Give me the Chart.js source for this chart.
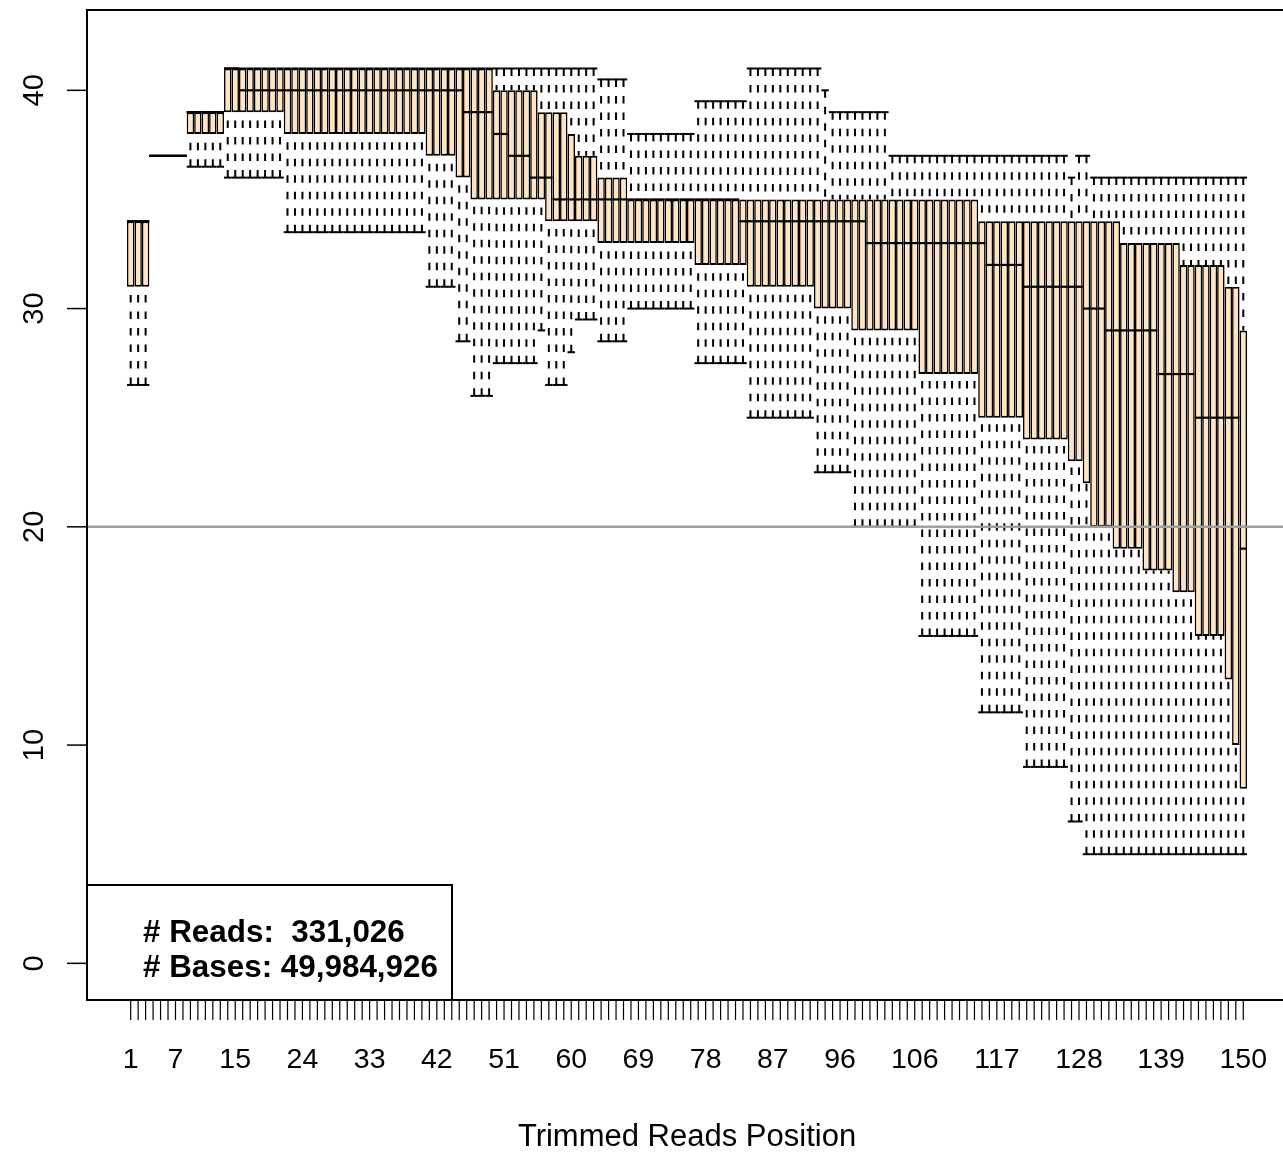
<!DOCTYPE html>
<html>
<head>
<meta charset="utf-8">
<title>Trimmed Reads Position quality</title>
<script src="https://cdn.jsdelivr.net/npm/chart.js@4.4.1/dist/chart.umd.min.js"></script>
<style>
  html, body { margin: 0; padding: 0; background: #ffffff; overflow: hidden; }
  canvas { display: block; }
</style>
</head>
<body>
<canvas id="chart" width="1283" height="1153"></canvas>
<script>
// Read positions along the trimmed reads (one box per position)
const positions = Array.from({ length: 150 }, (_, i) => i + 1);

// Lower whisker end for each position
const lowWhisker = [
  26.5, 26.5, 26.5, 37, 37, 37, 37, 37, 36.5, 36.5,
  36.5, 36.5, 36.5, 36, 36, 36, 36, 36, 36, 36,
  36, 33.5, 33.5, 33.5, 33.5, 33.5, 33.5, 33.5, 33.5, 33.5,
  33.5, 33.5, 33.5, 33.5, 33.5, 33.5, 33.5, 33.5, 33.5, 33.5,
  31, 31, 31, 31, 28.5, 28.5, 26, 26, 26, 27.5,
  27.5, 27.5, 27.5, 27.5, 27.5, 29, 26.5, 26.5, 26.5, 28,
  29.5, 29.5, 29.5, 28.5, 28.5, 28.5, 28.5, 30, 30, 30,
  30, 30, 30, 30, 30, 30, 27.5, 27.5, 27.5, 27.5,
  27.5, 27.5, 27.5, 25, 25, 25, 25, 25, 25, 25,
  25, 25, 22.5, 22.5, 22.5, 22.5, 22.5, 20, 20, 20,
  20, 20, 20, 20, 20, 20, 15, 15, 15, 15,
  15, 15, 15, 15, 11.5, 11.5, 11.5, 11.5, 11.5, 11.5,
  9, 9, 9, 9, 9, 9, 6.5, 6.5, 5, 5,
  5, 5, 5, 5, 5, 5, 5, 5, 5, 5,
  5, 5, 5, 5, 5, 5, 5, 5, 5, 5
];

// First quartile
const lowerQuartile = [
  31, 31, 31, 37, 37, 37, 37, 37, 38, 38,
  38, 38, 38, 39, 39, 39, 39, 39, 39, 39,
  39, 38, 38, 38, 38, 38, 38, 38, 38, 38,
  38, 38, 38, 38, 38, 38, 38, 38, 38, 38,
  37, 37, 37, 37, 36, 36, 35, 35, 35, 35,
  35, 35, 35, 35, 35, 35, 34, 34, 34, 34,
  34, 34, 34, 33, 33, 33, 33, 33, 33, 33,
  33, 33, 33, 33, 33, 33, 32, 32, 32, 32,
  32, 32, 32, 31, 31, 31, 31, 31, 31, 31,
  31, 31, 30, 30, 30, 30, 30, 29, 29, 29,
  29, 29, 29, 29, 29, 29, 27, 27, 27, 27,
  27, 27, 27, 27, 25, 25, 25, 25, 25, 25,
  24, 24, 24, 24, 24, 24, 23, 23, 22, 20,
  20, 20, 19, 19, 19, 19, 18, 18, 18, 18,
  17, 17, 17, 15, 15, 15, 15, 13, 10, 8
];

// Median
const medians = [
  34, 34, 34, 37, 37, 37, 37, 37, 39, 39,
  39, 39, 39, 41, 41, 40, 40, 40, 40, 40,
  40, 40, 40, 40, 40, 40, 40, 40, 40, 40,
  40, 40, 40, 40, 40, 40, 40, 40, 40, 40,
  40, 40, 40, 40, 40, 39, 39, 39, 39, 38,
  38, 37, 37, 37, 36, 36, 36, 35, 35, 35,
  35, 35, 35, 35, 35, 35, 35, 35, 35, 35,
  35, 35, 35, 35, 35, 35, 35, 35, 35, 35,
  35, 35, 34, 34, 34, 34, 34, 34, 34, 34,
  34, 34, 34, 34, 34, 34, 34, 34, 34, 33,
  33, 33, 33, 33, 33, 33, 33, 33, 33, 33,
  33, 33, 33, 33, 33, 32, 32, 32, 32, 32,
  31, 31, 31, 31, 31, 31, 31, 31, 30, 30,
  30, 29, 29, 29, 29, 29, 29, 29, 27, 27,
  27, 27, 27, 25, 25, 25, 25, 25, 25, 19
];

// Third quartile
const upperQuartile = [
  34, 34, 34, 37, 37, 37, 37, 37, 39, 39,
  39, 39, 39, 41, 41, 41, 41, 41, 41, 41,
  41, 41, 41, 41, 41, 41, 41, 41, 41, 41,
  41, 41, 41, 41, 41, 41, 41, 41, 41, 41,
  41, 41, 41, 41, 41, 41, 41, 41, 41, 40,
  40, 40, 40, 40, 40, 39, 39, 39, 39, 38,
  37, 37, 37, 36, 36, 36, 36, 35, 35, 35,
  35, 35, 35, 35, 35, 35, 35, 35, 35, 35,
  35, 35, 35, 35, 35, 35, 35, 35, 35, 35,
  35, 35, 35, 35, 35, 35, 35, 35, 35, 35,
  35, 35, 35, 35, 35, 35, 35, 35, 35, 35,
  35, 35, 35, 35, 34, 34, 34, 34, 34, 34,
  34, 34, 34, 34, 34, 34, 34, 34, 34, 34,
  34, 34, 34, 33, 33, 33, 33, 33, 33, 33,
  33, 32, 32, 32, 32, 32, 32, 31, 31, 29
];

// Upper whisker end
const highWhisker = [
  34, 34, 34, 37, 37, 37, 37, 37, 39, 39,
  39, 39, 39, 41, 41, 41, 41, 41, 41, 41,
  41, 41, 41, 41, 41, 41, 41, 41, 41, 41,
  41, 41, 41, 41, 41, 41, 41, 41, 41, 41,
  41, 41, 41, 41, 41, 41, 41, 41, 41, 41,
  41, 41, 41, 41, 41, 41, 41, 41, 41, 41,
  41, 41, 41, 40.5, 40.5, 40.5, 40.5, 38, 38, 38,
  38, 38, 38, 38, 38, 38, 39.5, 39.5, 39.5, 39.5,
  39.5, 39.5, 39.5, 41, 41, 41, 41, 41, 41, 41,
  41, 41, 41, 40, 39, 39, 39, 39, 39, 39,
  39, 39, 37, 37, 37, 37, 37, 37, 37, 37,
  37, 37, 37, 37, 37, 37, 37, 37, 37, 37,
  37, 37, 37, 37, 37, 37, 36, 37, 37, 36,
  36, 36, 36, 36, 36, 36, 36, 36, 36, 36,
  36, 36, 36, 36, 36, 36, 36, 36, 36, 36
];

// Axis labels
const xTickLabels = [1, 7, 15, 24, 33, 42, 51, 60, 69, 78, 87, 96, 106, 117, 128, 139, 150];
const yTickValues = [0, 10, 20, 30, 40];
const thresholdQuality = 20;
const legendLines = ['# Reads:  331,026', '# Bases: 49,984,926'];
const xTitle = 'Trimmed Reads Position';

const FONT = "'Liberation Sans', Arial, Helvetica, sans-serif";

// Whiskers, staples, medians, threshold line, axes, frame and the summary box
const boxplotDecor = {
  id: 'boxplotDecor',
  afterDatasetsDraw(chart) {
    const { ctx, chartArea: a, scales: { x, y } } = chart;
    const half = (x.getPixelForValue(2) - x.getPixelForValue(1)) / 2;
    ctx.save();
    ctx.strokeStyle = '#000';
    ctx.lineCap = 'butt';

    // dashed whiskers, drawn from the whisker end towards the box
    ctx.lineWidth = 2;
    ctx.setLineDash([7.5, 9]);
    positions.forEach((p, i) => {
      const cx = x.getPixelForValue(p);
      if (lowWhisker[i] < lowerQuartile[i]) {
        ctx.beginPath();
        ctx.moveTo(cx, y.getPixelForValue(lowWhisker[i]));
        ctx.lineTo(cx, y.getPixelForValue(lowerQuartile[i]));
        ctx.stroke();
      }
      if (highWhisker[i] > upperQuartile[i]) {
        ctx.beginPath();
        ctx.moveTo(cx, y.getPixelForValue(highWhisker[i]));
        ctx.lineTo(cx, y.getPixelForValue(upperQuartile[i]));
        ctx.stroke();
      }
    });
    ctx.setLineDash([]);

    // staples at the whisker ends
    ctx.lineWidth = 2;
    positions.forEach((p, i) => {
      const cx = x.getPixelForValue(p);
      [lowWhisker[i], highWhisker[i]].forEach(v => {
        const py = y.getPixelForValue(v);
        ctx.beginPath();
        ctx.moveTo(cx - half, py);
        ctx.lineTo(cx + half, py);
        ctx.stroke();
      });
    });

    // medians
    ctx.lineWidth = 2.2;
    positions.forEach((p, i) => {
      const cx = x.getPixelForValue(p);
      const py = y.getPixelForValue(medians[i]);
      ctx.beginPath();
      ctx.moveTo(cx - half, py);
      ctx.lineTo(cx + half, py);
      ctx.stroke();
    });

    // quality threshold
    ctx.strokeStyle = '#a0a0a0';
    ctx.lineWidth = 2.5;
    const ty = y.getPixelForValue(thresholdQuality);
    ctx.beginPath();
    ctx.moveTo(a.left, ty);
    ctx.lineTo(a.right, ty);
    ctx.stroke();

    // plot frame (right side lies past the canvas edge)
    ctx.strokeStyle = '#000';
    ctx.lineWidth = 2;
    ctx.strokeRect(a.left, a.top, a.right - a.left + 20, a.bottom - a.top);

    // y axis ticks and vertical labels
    ctx.lineWidth = 1.5;
    ctx.fillStyle = '#000';
    ctx.font = '29px ' + FONT;
    ctx.textAlign = 'center';
    ctx.textBaseline = 'middle';
    yTickValues.forEach(v => {
      const py = y.getPixelForValue(v);
      ctx.beginPath();
      ctx.moveTo(a.left - 20, py);
      ctx.lineTo(a.left, py);
      ctx.stroke();
      ctx.save();
      ctx.translate(35, py);
      ctx.rotate(-Math.PI / 2);
      ctx.fillText(String(v), 0, 0);
      ctx.restore();
    });

    // x axis ticks at every position, labels at selected positions
    ctx.lineWidth = 1.2;
    positions.forEach(p => {
      const px = x.getPixelForValue(p);
      ctx.beginPath();
      ctx.moveTo(px, a.bottom + 1);
      ctx.lineTo(px, a.bottom + 20);
      ctx.stroke();
    });
    ctx.font = '28.5px ' + FONT;
    xTickLabels.forEach(p => {
      ctx.fillText(String(p), x.getPixelForValue(p), 1060);
    });

    // axis title
    ctx.font = '31px ' + FONT;
    ctx.fillText(xTitle, 687, 1137);

    // summary box
    ctx.fillStyle = '#fff';
    ctx.fillRect(a.left, 885, 452 - a.left, a.bottom - 885);
    ctx.lineWidth = 2;
    ctx.strokeRect(a.left, 885, 452 - a.left, a.bottom - 885);
    ctx.fillStyle = '#000';
    ctx.font = 'bold 31.4px ' + FONT;
    ctx.textAlign = 'left';
    ctx.textBaseline = 'alphabetic';
    ctx.fillText(legendLines[0], 143, 941.5);
    ctx.fillText(legendLines[1], 143, 976.5);

    ctx.restore();
  }
};

new Chart(document.getElementById('chart'), {
  type: 'bar',
  data: {
    datasets: [{
      data: positions.map((p, i) => ({ x: p, y: [lowerQuartile[i], upperQuartile[i]] })),
      backgroundColor: '#FFE4C4',
      borderColor: '#000000',
      borderWidth: { left: 1.6, right: 1.6, top: 2, bottom: 2 },
      borderSkipped: false,
      inflateAmount: 0,
      barPercentage: 1,
      categoryPercentage: 1,
      grouped: false
    }]
  },
  options: {
    responsive: false,
    animation: false,
    devicePixelRatio: 1,
    layout: { padding: { left: 87, top: 10, right: 0, bottom: 153 } },
    plugins: { legend: { display: false }, tooltip: { enabled: false } },
    scales: {
      x: { type: 'linear', offset: false, bounds: 'ticks', min: -4.85, max: 155.32, display: false },
      y: { type: 'linear', min: -1.68, max: 43.68, display: false }
    }
  },
  plugins: [boxplotDecor]
});
</script>
</body>
</html>
